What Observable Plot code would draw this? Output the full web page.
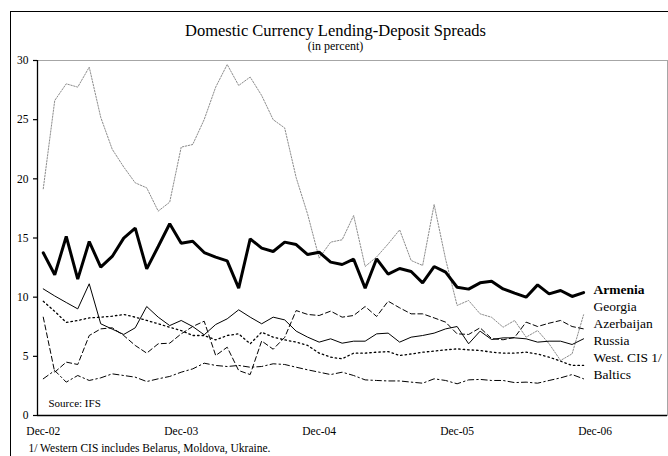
<!DOCTYPE html>
<html><head><meta charset="utf-8">
<script src="https://cdn.jsdelivr.net/npm/d3@7"></script>
<script src="https://cdn.jsdelivr.net/npm/@observablehq/plot@0.6"></script>
<style>
html,body{margin:0;padding:0;background:#fff;overflow:hidden;width:668px;height:456px}
#frame{position:absolute;left:10px;top:11px;width:2000px;height:2000px;border-left:1px solid #000;border-top:1px solid #000;box-sizing:border-box}
#chart{position:absolute;left:0;top:0}
</style></head><body><div id="frame"></div><div id="chart"></div>
<script>
const title = "Domestic Currency Lending-Deposit Spreads";
const subtitle = "(in percent)";
const source = "Source: IFS";
const footnote = "1/ Western CIS includes Belarus, Moldova, Ukraine.";
const tickLabels = ["Dec-02","Dec-03","Dec-04","Dec-05","Dec-06"];
const tickIdx = [0, 12, 24, 36, 48];   // month index from Dec-02
const yTicks = [0, 5, 10, 15, 20, 25, 30];
const seriesNames = ["Armenia","Georgia","Azerbaijan","Russia","West. CIS 1/","Baltics"];

// monthly, Dec-02 .. Nov-06
const armenia = [13.75,11.89,15.13,11.52,14.70,12.54,13.44,14.99,15.83,12.39,14.28,16.20,14.56,14.73,13.77,13.38,13.07,10.76,14.93,14.14,13.86,14.65,14.45,13.60,13.80,12.96,12.76,13.21,10.76,13.24,11.94,12.42,12.17,11.21,12.59,12.11,10.84,10.68,11.21,11.35,10.70,10.34,10.00,11.04,10.28,10.56,10.06,10.39];
const georgia = [19.16,26.62,28.03,27.75,29.44,25.2,22.5,21.0,19.66,19.24,17.27,18.03,22.68,22.9,25.01,27.75,29.66,27.89,28.6,27.04,25.0,24.3,20.1,17.0,13.3,14.65,14.85,16.9,12.59,13.4,14.5,15.69,13.1,12.68,17.83,13.2,9.3,9.72,8.59,8.3,7.46,8.03,6.62,7.18,6.06,4.65,5.21,8.51];
const azerbaijan = [8.31,3.66,4.51,4.31,6.76,7.32,7.41,6.76,5.92,5.27,6.06,6.11,6.9,7.52,7.97,5.07,5.77,3.8,3.46,6.3,5.6,6.6,8.87,8.54,8.45,8.82,8.31,8.45,9.21,8.37,9.66,9.1,8.59,8.59,8.25,7.89,6.9,6.85,7.41,6.5,6.4,6.6,7.89,7.52,7.8,8.03,7.52,7.32];
const russia = [10.7,10.1,9.55,9.01,11.13,7.75,7.3,6.85,7.41,9.21,8.31,7.6,8.03,7.52,6.82,7.69,8.17,8.93,8.31,7.75,8.31,8.08,7.13,6.62,6.2,6.48,6.11,6.28,6.28,6.9,6.96,6.2,6.62,6.76,6.96,7.32,7.52,6.06,7.13,6.42,6.56,6.56,6.48,6.2,6.28,6.28,6.0,6.48];
const westCIS = [9.65,8.8,7.86,8.03,8.25,8.31,8.39,8.54,8.31,8.03,7.75,7.46,7.18,6.76,6.76,6.39,6.76,6.9,6.06,7.04,6.62,6.39,6.2,5.92,5.27,4.93,4.79,5.27,5.27,5.35,5.4,5.07,5.2,5.35,5.44,5.55,5.63,5.55,5.5,5.35,5.27,5.27,5.35,5.2,4.93,4.59,4.23,4.23];
const baltics = [3.1,3.8,2.82,3.38,2.96,3.18,3.52,3.38,3.24,2.87,3.1,3.3,3.66,3.94,4.42,4.23,4.14,4.23,4.08,4.14,4.37,4.31,4.08,3.86,3.66,3.46,3.66,3.38,3.01,2.96,2.92,2.92,2.82,2.73,3.1,2.96,2.68,3.01,3.05,2.96,2.96,2.78,2.82,2.73,2.96,3.18,3.46,3.1];

const xDomain = [-0.5, 54.3];
const X = (d, i) => i, Y = d => d;
const font = "'Liberation Serif', 'Times New Roman', serif";

const chart = Plot.plot({
  width: 668, height: 456,
  marginLeft: 37, marginRight: 1, marginTop: 60, marginBottom: 41,
  x: {domain: xDomain, axis: null},
  y: {domain: [0, 30], axis: null},
  style: {fontFamily: font, background: "transparent", color: "#000", overflow: "visible"},
  marks: [
    Plot.frame({stroke: "#a6a6a6"}),
    Plot.ruleY([0], {stroke: "#000", strokeWidth: 1.3}),
    Plot.ruleX([xDomain[0]], {stroke: "#000", strokeWidth: 1.3}),
    Plot.axisY({ticks: yTicks, tickSize: 4, tickPadding: 5, fontSize: 11.5, stroke: "#000", strokeWidth: 1.2}),
    Plot.axisX({ticks: tickIdx, tickFormat: d => tickLabels[tickIdx.indexOf(d)], tickSize: 0, tickPadding: 11, fontSize: 11.5}),
    Plot.line(georgia, {x: X, y: Y, stroke: "#8c8c8c", strokeWidth: 1, strokeDasharray: "1.5,1.5"}),
    Plot.line(baltics, {x: X, y: Y, stroke: "#000", strokeWidth: 1, strokeDasharray: "6,3,1.5,3"}),
    Plot.line(westCIS, {x: X, y: Y, stroke: "#000", strokeWidth: 1.3, strokeDasharray: "1.5,3"}),
    Plot.line(russia, {x: X, y: Y, stroke: "#000", strokeWidth: 1}),
    Plot.line(azerbaijan, {x: X, y: Y, stroke: "#000", strokeWidth: 1, strokeDasharray: "5,3"}),
    Plot.line(armenia, {x: X, y: Y, stroke: "#000", strokeWidth: 3, strokeLinejoin: "miter"}),
    Plot.text([seriesNames[0]], {text: d => d, frameAnchor: "top-right", textAnchor: "start", lineAnchor: "middle", dx: -74, dy: 229, fontSize: 13.5, fontWeight: "bold"}),
    Plot.text([seriesNames.slice(1).join("\n")], {text: d => d, frameAnchor: "top-right", textAnchor: "start", lineAnchor: "middle", dx: -74, dy: 279.2, fontSize: 13.5, lineHeight: 1.27}),
    Plot.text([source], {text: d => d, frameAnchor: "bottom-left", textAnchor: "start", lineAnchor: "middle", dx: 11, dy: -12, fontSize: 11}),
    Plot.text([footnote], {text: d => d, frameAnchor: "bottom-left", textAnchor: "start", lineAnchor: "middle", dx: -9, dy: 33, fontSize: 11.5}),
    Plot.text([title], {text: d => d, frameAnchor: "top", lineAnchor: "middle", dx: -17, dy: -30, fontSize: 16.5}),
    Plot.text([subtitle], {text: d => d, frameAnchor: "top", lineAnchor: "middle", dx: -17, dy: -14, fontSize: 12})
  ]
});
document.getElementById("chart").appendChild(chart);
</script></body></html>
